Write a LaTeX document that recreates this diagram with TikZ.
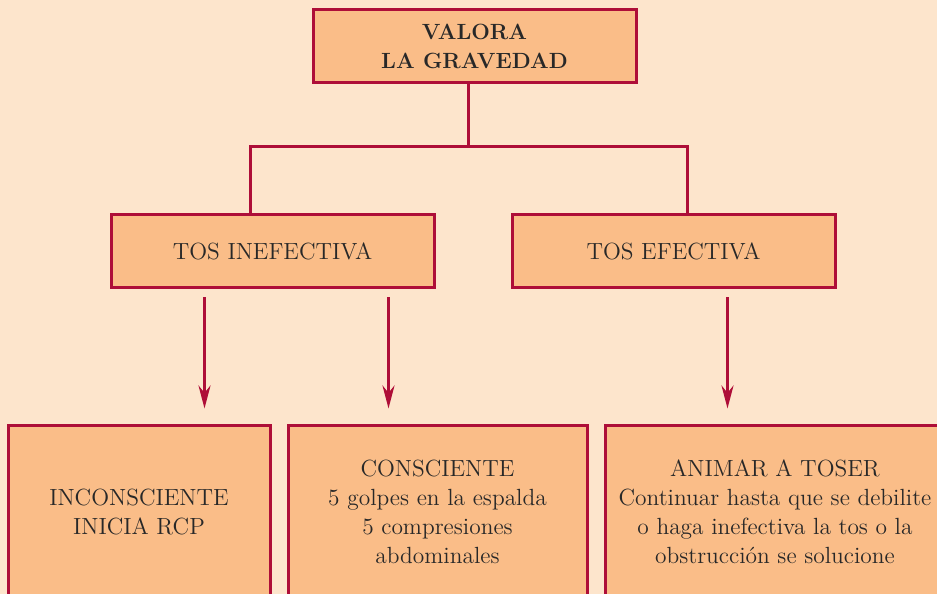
\documentclass[tikz,border=0pt]{standalone}
\usepackage{xcolor}
\usepackage{tikz}
\usetikzlibrary{arrows.meta,positioning}
\definecolor{peach}{RGB}{253,229,204}
\definecolor{boxfill}{RGB}{250,189,136}
\definecolor{crimson}{RGB}{174,14,56}
\definecolor{ink}{RGB}{40,40,40}

\begin{document}
\begin{tikzpicture}[node distance=64.5pt and 2cm]
    \tikzstyle{every node}=[draw=crimson, fill=boxfill, line width=1.5pt, text=ink, align=center, font=\fontsize{11.7}{14.5}\selectfont]
    \tikzstyle{link}=[crimson, line width=1.5pt]
    \tikzstyle{arr}=[link, -{Stealth[length=11.5pt,width=6pt]}, shorten <=4pt, shorten >=8pt]

    \useasboundingbox (0,0) rectangle (468.5pt,297pt);
    \fill[peach] (0,0) rectangle (468.5pt,297pt);

    \node[rectangle, minimum width=161.5pt, minimum height=36.5pt, font=\fontsize{11}{14.5}\selectfont\bfseries] (valora) at (237.25pt,273.75pt) {VALORA\\ LA GRAVEDAD};

    \node[rectangle, minimum width=161.5pt, minimum height=36.5pt] (ineff) [below=of valora, xshift=-101pt] {TOS INEFECTIVA};
    \node[rectangle, minimum width=161.5pt, minimum height=36.5pt] (eff) [below=of valora, xshift=99.5pt] {TOS EFECTIVA};

    \node[rectangle, minimum width=131pt, minimum height=86pt] (incons) [below=67.5pt of ineff, xshift=-66.75pt] {INCONSCIENTE\\ INICIA RCP};
    \node[rectangle, minimum width=149.5pt, minimum height=86pt] (consc) [below=67.5pt of ineff, xshift=82.5pt] {CONSCIENTE\\ 5 golpes en la espalda\\ 5 compresiones\\ abdominales};
    \node[rectangle, minimum width=170pt, minimum height=86pt] (animar) [below=67.5pt of eff, xshift=50.75pt] {ANIMAR A TOSER\\ Continuar hasta que se debilite\\ o haga inefectiva la tos o la\\ obstrucción se solucione};

    \draw [link] ([xshift=-3pt]valora.south) -- ++(0,-31pt) coordinate (fork);
    \draw [link] ([xshift=-11pt]ineff.north) |- (fork) -| ([xshift=7pt]eff.north);

    \draw [arr] ([xshift=-34pt]ineff.south) -- ([xshift=-34pt]ineff.south |- incons.north);
    \draw [arr] ([xshift=58pt]ineff.south) -- ([xshift=58pt]ineff.south |- consc.north);
    \draw [arr] ([xshift=27pt]eff.south) -- ([xshift=27pt]eff.south |- animar.north);
\end{tikzpicture}
\end{document}
